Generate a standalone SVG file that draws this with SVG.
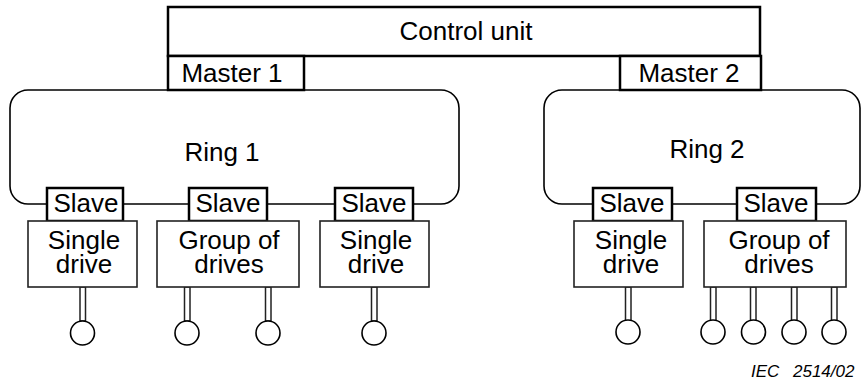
<svg xmlns="http://www.w3.org/2000/svg" width="862" height="387" viewBox="0 0 862 387">
<style>
  .t { font-family: "Liberation Sans", Arial, sans-serif; font-size: 26px; fill: #000; text-anchor: middle; }
  .box { fill: #fff; stroke: #000; stroke-width: 2.5; }
  .ring { fill: #fff; stroke: #000; stroke-width: 1.6; }
  .drv { fill: #fff; stroke: #222; stroke-width: 1.6; }
  .stem { fill: #fff; stroke: #222; stroke-width: 1.5; }
  .mot { fill: #fff; stroke: #000; stroke-width: 1.6; }
  .iec { font-family: "Liberation Sans", Arial, sans-serif; font-size: 17px; font-style: italic; fill: #000; }
</style>
<rect width="862" height="387" fill="#fff"/>

<g id="ring1"><rect class="ring" x="10" y="90" width="449" height="114" rx="18"/><text class="t" x="222" y="161">Ring 1</text></g>
<g id="ring2"><rect class="ring" x="544" y="90" width="316" height="114" rx="18"/><text class="t" x="707" y="158">Ring 2</text></g>

<g id="control-unit"><rect class="box" x="168" y="7" width="592" height="49" stroke-width="2"/><text class="t" x="466" y="40">Control unit</text></g>
<g id="master1"><rect class="box" x="168" y="56" width="136" height="34"/><text class="t" x="232" y="82">Master 1</text></g>
<g id="master2"><rect class="box" x="620" y="56" width="141" height="34"/><text class="t" x="689" y="82">Master 2</text></g>

<g id="connectors">
  <rect class="stem" x="80" y="287" width="5.5" height="34"/>
  <rect class="stem" x="184.5" y="287" width="5.5" height="34"/>
  <rect class="stem" x="265.5" y="287" width="5.5" height="34"/>
  <rect class="stem" x="371.5" y="287" width="5.5" height="34"/>
  <rect class="stem" x="625.5" y="287" width="5.5" height="34"/>
  <rect class="stem" x="710.5" y="287" width="5.5" height="34"/>
  <rect class="stem" x="750.5" y="287" width="5.5" height="34"/>
  <rect class="stem" x="791.5" y="287" width="5.5" height="34"/>
  <rect class="stem" x="831.5" y="287" width="5.5" height="34"/>
</g>

<g id="slave1"><rect class="box" x="47" y="188" width="76" height="33"/><text class="t" x="86" y="212">Slave</text></g>
<g id="slave2"><rect class="box" x="189" y="188" width="78" height="33"/><text class="t" x="228" y="212">Slave</text></g>
<g id="slave3"><rect class="box" x="335" y="188" width="78" height="33"/><text class="t" x="374" y="212">Slave</text></g>
<g id="slave4"><rect class="box" x="593" y="188" width="79" height="33"/><text class="t" x="632" y="212">Slave</text></g>
<g id="slave5"><rect class="box" x="737" y="188" width="79" height="33"/><text class="t" x="776" y="212">Slave</text></g>

<g id="drive1"><rect class="drv" x="28" y="221" width="109" height="66"/><text class="t" x="84" y="249">Single</text><text class="t" x="84" y="273">drive</text></g>
<g id="group1"><rect class="drv" x="157" y="221" width="142" height="66"/><text class="t" x="229" y="249">Group of</text><text class="t" x="229" y="273">drives</text></g>
<g id="drive2"><rect class="drv" x="320" y="221" width="109" height="66"/><text class="t" x="376" y="249">Single</text><text class="t" x="376" y="273">drive</text></g>
<g id="drive3"><rect class="drv" x="574" y="221" width="109" height="66"/><text class="t" x="631" y="249">Single</text><text class="t" x="631" y="273">drive</text></g>
<g id="group2"><rect class="drv" x="704" y="221" width="142" height="66"/><text class="t" x="779" y="249">Group of</text><text class="t" x="779" y="273">drives</text></g>

<g id="motors">
  <circle class="mot" cx="82.5" cy="333" r="12"/>
  <circle class="mot" cx="187" cy="333" r="12"/>
  <circle class="mot" cx="268" cy="333" r="12"/>
  <circle class="mot" cx="374" cy="333" r="12"/>
  <circle class="mot" cx="628" cy="332" r="12"/>
  <circle class="mot" cx="713" cy="332" r="12"/>
  <circle class="mot" cx="753.5" cy="332" r="12"/>
  <circle class="mot" cx="794" cy="332" r="12"/>
  <circle class="mot" cx="834" cy="332" r="12"/>
</g>

<g id="label"><text class="iec" x="751" y="377">IEC</text><text class="iec" x="793" y="377">2514/02</text></g>
</svg>
